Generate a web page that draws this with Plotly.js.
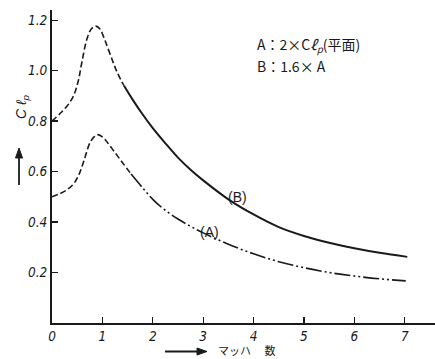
<!DOCTYPE html>
<html>
<head>
<meta charset="utf-8">
<script src="https://cdn.plot.ly/plotly-3.0.1.min.js"></script>
<style>html,body{margin:0;padding:0;background:#fff;}#chart{width:435px;height:359px;}</style>
</head>
<body>
<div id="chart"></div>
<script>
// Curve B (1.6 x A): dashed part, then solid part
const bDashedMach = [0, 0.15, 0.3, 0.42, 0.52, 0.59, 0.69, 0.78, 0.87, 0.95, 1.05, 1.2, 1.3, 1.43];
const bDashedC    = [0.80, 0.828, 0.86, 0.897, 0.958, 1.03, 1.123, 1.165, 1.176, 1.165, 1.12, 1.04, 0.99, 0.94];
const bSolidMach  = [1.43, 1.6, 1.8, 2.0, 2.25, 2.5, 2.75, 3.0, 3.5, 4.0, 4.5, 5.0, 5.5, 6.0, 6.5, 7.05];
const bSolidC     = [0.94, 0.885, 0.826, 0.772, 0.712, 0.655, 0.607, 0.565, 0.49, 0.43, 0.38, 0.345, 0.318, 0.296, 0.278, 0.262];
// Curve A (2 x Clp plane): dashed part, then dash-dot-dot part
const aDashedMach = [0, 0.15, 0.3, 0.44, 0.55, 0.64, 0.77, 0.9, 1.0, 1.1, 1.25, 1.4, 1.57];
const aDashedC    = [0.50, 0.512, 0.528, 0.554, 0.595, 0.647, 0.72, 0.746, 0.737, 0.715, 0.675, 0.635, 0.59];
const aDotMach    = [1.57, 1.8, 2.0, 2.25, 2.5, 2.75, 3.0, 3.5, 4.0, 4.5, 5.0, 5.5, 6.0, 6.5, 7.02];
const aDotC       = [0.59, 0.535, 0.49, 0.446, 0.412, 0.383, 0.357, 0.312, 0.274, 0.243, 0.219, 0.2, 0.186, 0.175, 0.167];

const xTicks = [0, 1, 2, 3, 4, 5, 6, 7];
const yTicks = [0.2, 0.4, 0.6, 0.8, 1.0, 1.2];

const ink = '#1a1a1a';
const tickFont = {family: 'Liberation Sans Narrow, DejaVu Sans Condensed, sans-serif', size: 13.5, color: ink, style: 'italic'};

// pixel -> paper helpers for decorations outside the plot area
const L = 52, T = 10, W = 383, H = 313;
const px = p => (p - L) / W;
const py = p => (T + H - p) / H;

const traces = [
  {x: bDashedMach, y: bDashedC, mode: 'lines', line: {color: ink, width: 1.6, dash: '6px,3px', shape: 'spline', smoothing: 1}, hoverinfo: 'skip'},
  {x: bSolidMach, y: bSolidC, mode: 'lines', line: {color: ink, width: 2, shape: 'spline', smoothing: 1}, hoverinfo: 'skip'},
  {x: aDashedMach, y: aDashedC, mode: 'lines', line: {color: ink, width: 1.6, dash: '6px,3px', shape: 'spline', smoothing: 1}, hoverinfo: 'skip'},
  {x: aDotMach, y: aDotC, mode: 'lines', line: {color: ink, width: 1.6, dash: '16px,3px,2px,3px,2px,3px', shape: 'spline', smoothing: 1}, hoverinfo: 'skip'}
];

const layout = {
  width: 435, height: 359,
  margin: {l: L, r: 0, t: T, b: 36},
  paper_bgcolor: '#fff', plot_bgcolor: '#fff',
  showlegend: false,
  xaxis: {
    range: [0, 7.6], showgrid: false, zeroline: false,
    showline: true, linecolor: ink, linewidth: 2,
    ticks: 'inside', ticklen: 6, tickwidth: 1.2, tickcolor: ink,
    tickvals: xTicks, ticktext: xTicks.map(String),
    tickfont: tickFont
  },
  yaxis: {
    range: [0, 1.24], showgrid: false, zeroline: false,
    showline: true, linecolor: ink, linewidth: 2,
    ticks: 'inside', ticklen: 6, tickwidth: 1.2, tickcolor: ink,
    tickvals: yTicks, ticktext: yTicks.map(v => v.toFixed(1)),
    tickfont: tickFont
  },
  shapes: [
    // y-axis arrow (shaft + head)
    {type: 'line', xref: 'paper', yref: 'paper', x0: px(19), x1: px(19), y0: py(185), y1: py(155), line: {color: ink, width: 1.8}},
    {type: 'path', xref: 'paper', yref: 'paper', fillcolor: ink, line: {color: ink, width: 1},
     path: `M ${px(19)} ${py(148)} L ${px(15.5)} ${py(158)} L ${px(22.5)} ${py(158)} Z`},
    // x-axis arrow (shaft + head)
    {type: 'line', xref: 'paper', yref: 'paper', x0: px(165), x1: px(198), y0: py(351.5), y1: py(351.5), line: {color: ink, width: 1.8}},
    {type: 'path', xref: 'paper', yref: 'paper', fillcolor: ink, line: {color: ink, width: 1},
     path: `M ${px(207)} ${py(351.5)} L ${px(197)} ${py(348)} L ${px(197)} ${py(355)} Z`}
  ],
  annotations: [
    {xref: 'x', yref: 'y', x: 4.03, y: 1.10, text: 'A：2×C<i>ℓ<sub>p</sub></i>(平面)', showarrow: false, xanchor: 'left', yanchor: 'middle',
     font: {family: 'Liberation Sans Narrow, Noto Sans CJK JP, sans-serif', size: 14, color: ink}},
    {xref: 'x', yref: 'y', x: 4.03, y: 1.02, text: 'B：1.6× A', showarrow: false, xanchor: 'left', yanchor: 'middle',
     font: {family: 'Liberation Sans Narrow, Noto Sans CJK JP, sans-serif', size: 14, color: ink}},
    {xref: 'x', yref: 'y', x: 3.69, y: 0.50, text: '(B)', showarrow: false, xanchor: 'center', yanchor: 'middle',
     font: {family: 'Liberation Sans Narrow, sans-serif', size: 14, color: ink}},
    {xref: 'x', yref: 'y', x: 3.13, y: 0.36, text: '(A)', showarrow: false, xanchor: 'center', yanchor: 'middle',
     font: {family: 'Liberation Sans Narrow, sans-serif', size: 14, color: ink}},
    // y-axis title
    {xref: 'paper', yref: 'paper', x: px(22), y: py(107), text: '<i>C ℓ<sub>p</sub></i>', showarrow: false, textangle: -90,
     xanchor: 'center', yanchor: 'middle', font: {family: 'Liberation Sans Narrow, sans-serif', size: 14, color: ink}},
    // x-axis title
    {xref: 'paper', yref: 'paper', x: px(217), y: py(359), text: 'マッハ　 数', showarrow: false, borderpad: 0,
     xanchor: 'left', yanchor: 'bottom', font: {family: 'Noto Sans CJK JP, sans-serif', size: 11, color: ink}}
  ]
};

Plotly.newPlot('chart', traces, layout, {staticPlot: true, displayModeBar: false});
</script>
</body>
</html>
